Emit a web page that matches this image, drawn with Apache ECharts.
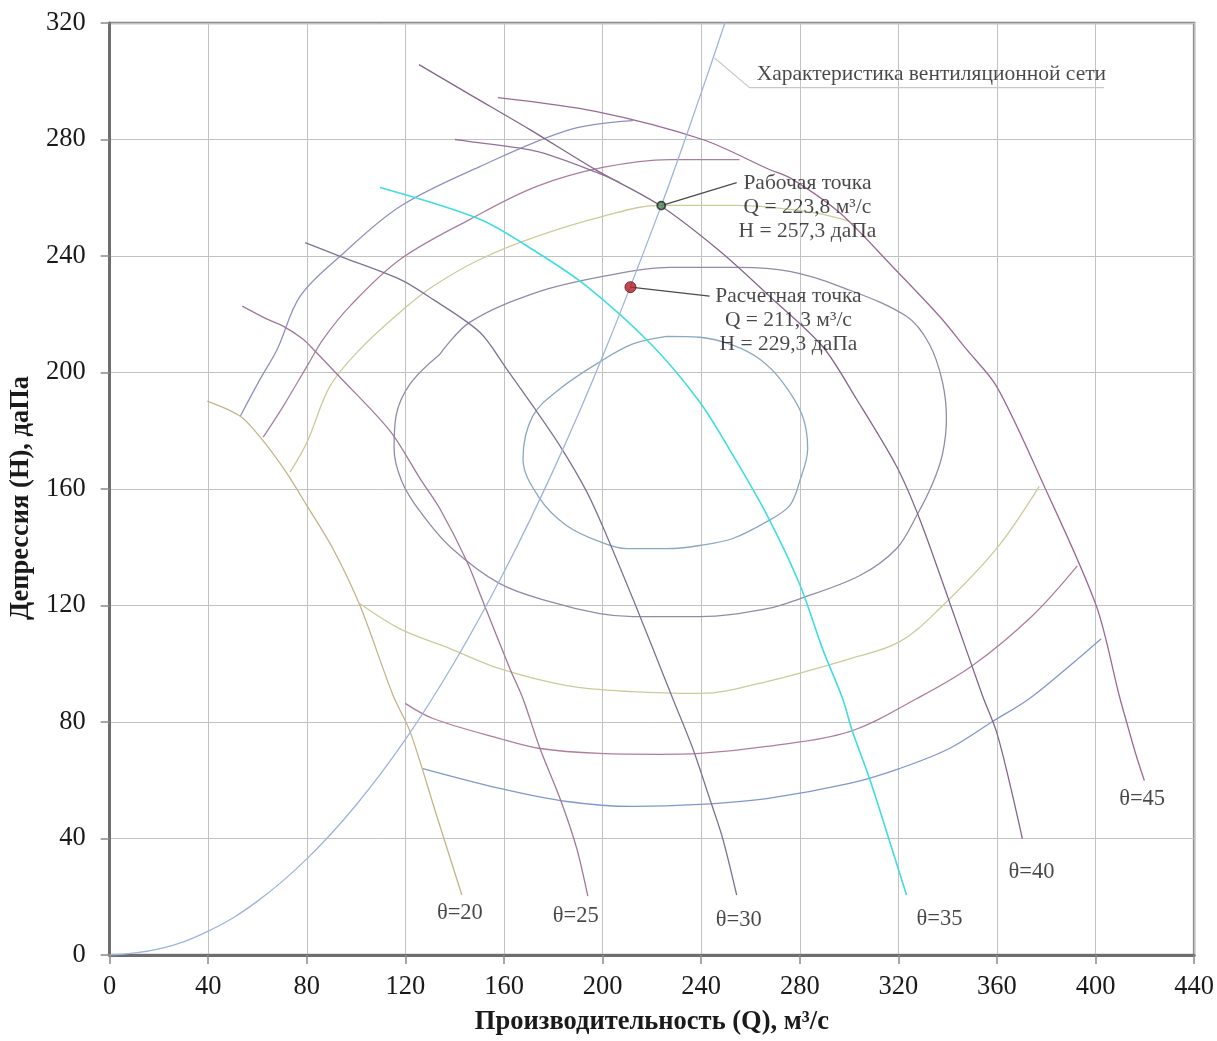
<!DOCTYPE html>
<html>
<head>
<meta charset="utf-8">
<title>Аэродинамическая характеристика вентилятора</title>
<script src="https://cdn.jsdelivr.net/npm/echarts/dist/echarts.min.js"></script>
<style>
html, body { margin: 0; padding: 0; background: #fff; }
#chart { width: 1217px; height: 1041px; }
</style>
</head>
<body>
<div id="chart"></div>
<script>
// оси
var qMin = 0, qMax = 440, qStep = 40;
var hMin = 0, hMax = 320, hStep = 40;

// характеристика вентиляционной сети (Q, H)
var network = [[0, 0], [20, 2.1], [40, 8.2], [60, 18.5], [80, 33], [100, 51.5], [120, 74], [140, 100.7],
    [160, 131.5], [180, 166.4], [200, 205.5], [223.8, 257.3], [240, 296], [250, 321]];

// характеристики при углах установки лопаток
var theta20 = [[39.6, 190.2], [53.0, 185.0], [61.1, 177.8], [71.6, 165.8], [80.1, 154.2], [90.6, 139.5],
    [101.6, 119.9], [115.0, 89.1], [121.9, 76.7], [132.4, 48.6], [142.9, 20.6]];
var theta25 = [[53.8, 222.8], [63.9, 218.3], [70.4, 215.9], [78.5, 211.4], [82.6, 208.0], [92.3, 199.4],
    [113.8, 179.9], [126.0, 163.5], [134.0, 153.2], [145.0, 135.0], [151.5, 121.3], [162.4, 98.3],
    [167.7, 88.0], [174.6, 70.9], [182.7, 53.8], [189.5, 36.6], [194.0, 20.2]];
var theta30 = [[79.3, 244.6], [93.5, 239.9], [117.8, 232.0], [131.2, 225.1], [150.2, 213.8], [161.1, 201.2],
    [171.7, 188.5], [182.7, 174.8], [193.6, 159.0], [201.7, 143.9], [212.3, 122.3], [220.4, 105.2],
    [228.5, 88.0], [236.6, 70.9], [243.4, 53.8], [248.7, 40.1], [254.4, 20.6]];
var theta35 = [[109.7, 263.5], [150.2, 252.6], [173.3, 241.3], [193.6, 229.6], [219.1, 210.2], [239.4, 189.9],
    [252.8, 171.7], [266.6, 151.2], [280.0, 127.2], [289.2, 105.2], [297.4, 88.0], [301.4, 76.7],
    [308.3, 60.6], [315.2, 42.4], [323.3, 20.6]];
var theta40 = [[125.5, 305.7], [146.2, 295.4], [170.5, 283.4], [197.6, 269.4], [223.2, 257.4], [247.5, 241.7],
    [267.7, 226.2], [289.2, 209.0], [303.0, 190.9], [319.2, 167.9], [328.6, 149.8], [340.7, 121.3],
    [354.1, 89.1], [359.8, 76.7], [365.0, 59.6], [370.3, 40.0]];
var theta40Branch = [[140.1, 280.0], [146.2, 279.3], [173.3, 275.9], [197.6, 268.7], [207.0, 265.2]];
var theta45 = [[157.5, 294.4], [197.6, 289.6], [240.6, 280.0], [267.7, 269.7], [275.9, 266.9], [296.1, 254.9],
    [317.6, 236.4], [336.7, 219.3], [347.6, 208.0], [359.8, 195.3], [378.4, 162.4], [400.3, 119.9],
    [409.6, 89.1], [413.7, 76.7], [416.5, 68.5], [419.8, 59.9]];

// линии равного КПД
var etaOuterTop = [[53.0, 185.0], [61.1, 197.8], [68.0, 208.0], [77.3, 226.2], [93.5, 239.9], [117.8, 257.0],
    [150.2, 270.7], [186.7, 283.4], [212.3, 286.5]];
var etaOuterBottom = [[127.1, 64.0], [158.3, 57.2], [185.5, 52.7], [212.3, 51.0], [239.4, 51.7], [266.6, 53.7],
    [300.2, 58.9], [320.4, 64.0], [340.7, 70.9], [358.1, 80.1], [373.1, 88.0], [388.1, 98.3], [402.3, 108.6]];
var etaMidTop = [[62.3, 177.8], [70.4, 188.4], [80.1, 202.2], [86.6, 211.4], [97.5, 222.8], [117.8, 238.8],
    [146.2, 252.6], [173.3, 263.9], [200.1, 270.4], [227.2, 273.1], [255.6, 273.1]];
var etaMidBottom = [[119.9, 86.4], [131.2, 81.2], [158.3, 74.3], [174.6, 70.9], [198.8, 69.2], [223.2, 68.9],
    [239.4, 69.2], [266.6, 71.6], [300.2, 76.7], [327.4, 88.0], [350.1, 99.4], [374.4, 116.5], [392.6, 133.6]];
var etaInnerTop = [[73.2, 165.8], [80.1, 176.1], [89.4, 195.3], [101.6, 208.0], [117.8, 220.7], [131.2, 229.6],
    [150.2, 238.8], [173.3, 246.7], [200.1, 253.6], [223.2, 257.4], [254.4, 257.4], [285.2, 255.0], [300.2, 251.9]];
var etaInnerBottom = [[101.6, 120.6], [117.8, 112.0], [138.1, 105.2], [158.3, 98.3], [185.5, 92.5], [212.3, 90.4],
    [239.4, 89.8], [266.6, 93.9], [300.2, 101.7], [320.4, 107.5], [336.7, 118.9], [359.8, 139.5], [377.2, 161.0]];
var etaLoop2 = [[134.0, 206.3], [146.2, 217.3], [173.3, 227.5], [200.1, 233.0], [227.2, 236.1], [255.6, 236.1],
    [275.9, 234.7], [296.1, 229.6], [323.3, 219.3], [332.6, 209.7], [337.9, 196.7], [339.5, 184.1],
    [337.9, 172.0], [333.8, 161.7], [327.4, 150.8], [319.2, 139.5], [304.2, 130.2], [279.9, 122.3],
    [266.6, 118.9], [239.4, 116.2], [212.3, 116.2], [198.8, 117.2], [178.6, 121.3], [158.3, 127.5],
    [138.1, 140.2], [126.0, 152.2], [118.6, 162.5], [115.4, 173.8], [116.2, 185.1], [121.9, 196.1], [134.0, 206.3]];
var etaLoop1 = [[226.0, 212.4], [239.4, 212.1], [252.8, 209.4], [263.7, 204.6], [273.0, 196.7], [281.1, 185.1],
    [283.2, 173.8], [279.9, 162.5], [275.9, 154.3], [266.6, 148.8], [252.8, 143.0], [239.4, 140.6],
    [226.0, 139.5], [209.8, 139.5], [198.8, 141.9], [185.5, 147.4], [174.6, 156.6], [167.7, 170.3],
    [171.7, 185.1], [182.7, 194.4], [198.8, 203.6], [212.3, 209.8], [226.0, 212.4]];

// точки
var workPoint = [223.8, 257.3];
var designPoint = [211.3, 229.3];

// подписи (Q, H, текст)
var thetaLabels = [[142.1, 14.3, 'θ=20'], [189.1, 13.3, 'θ=25'], [255.2, 11.9, 'θ=30'],
    [336.7, 12.2, 'θ=35'], [374.0, 28.3, 'θ=40'], [418.9, 53.7, 'θ=45']];
var networkLeader = [[245.4, 308], [259.6, 297.8], [403.5, 297.8]];
var networkLabelAt = [262.5, 302.3];
var workLeader = [workPoint, [254.4, 265.2]];
var workLabelAt = [283.1, 256.7];
var designLeader = [designPoint, [243.4, 226.2]];
var designLabelAt = [275.4, 217.9];

var serif = "'Liberation Serif', 'Times New Roman', serif";

function fmt(v) {
    return v.toFixed(1).replace('.', ',');
}

function curve(name, data, color, width, smooth) {
    return {
        name: name,
        type: 'line',
        data: data,
        symbol: 'none',
        smooth: smooth === undefined ? 0.35 : smooth,
        lineStyle: { color: color, width: width || 1.3 },
        silent: true,
        z: 3
    };
}

function textAt(pos, text, align, size) {
    return {
        type: 'scatter',
        data: [pos],
        symbolSize: 1,
        itemStyle: { color: 'rgba(0,0,0,0)' },
        silent: true,
        z: 6,
        label: {
            show: true,
            position: 'inside',
            align: align || 'center',
            verticalAlign: 'middle',
            formatter: text,
            fontFamily: serif,
            fontSize: size || 21.5,
            lineHeight: 24,
            color: '#1a1a1a'
        }
    };
}

var chart = echarts.init(document.getElementById('chart'));

var series = [
    curve('eta1', etaLoop1, '#8aa8c0'),
    curve('eta2', etaLoop2, '#948aa8'),
    curve('eta3a', etaInnerTop, '#cccb9c'),
    curve('eta3b', etaInnerBottom, '#cccb9c'),
    curve('eta4a', etaMidTop, '#a97f9f'),
    curve('eta4b', etaMidBottom, '#b07d9e'),
    curve('eta5a', etaOuterTop, '#8f91c2'),
    curve('eta5b', etaOuterBottom, '#8098cc'),
    curve('θ=20', theta20, '#c4b48a', 1.3, 0.3),
    curve('θ=25', theta25, '#a0789a', 1.3, 0.3),
    curve('θ=30', theta30, '#7f7296', 1.3, 0.3),
    curve('θ=40', theta40, '#84668c', 1.3, 0.3),
    curve('θ=40b', theta40Branch, '#96709a', 1.3, 0.3),
    curve('θ=45', theta45, '#9c6a96', 1.3, 0.3),
    curve('θ=35', theta35, '#3fdde2', 1.6, 0.3),
    curve('сеть', network, '#9fb4dc', 1.3, 0.4),
    curve('leaderNet', networkLeader, '#c8c8c8', 1.2, false),
    curve('leaderWork', workLeader, '#4a4a4a', 1.2, false),
    curve('leaderDesign', designLeader, '#4a4a4a', 1.2, false),
    {
        type: 'scatter',
        data: [workPoint],
        symbolSize: 8,
        itemStyle: { color: '#5f8f5f', borderColor: '#1c2a1c', borderWidth: 1.8 },
        z: 7
    },
    {
        type: 'scatter',
        data: [designPoint],
        symbolSize: 11,
        itemStyle: { color: '#b01e2a', borderColor: '#6a0a12', borderWidth: 1 },
        z: 7
    },
    textAt(networkLabelAt, 'Характеристика вентиляционной сети', 'left'),
    textAt(workLabelAt, ['Рабочая точка', 'Q = ' + fmt(workPoint[0]) + ' м³/с', 'H = ' + fmt(workPoint[1]) + ' даПа'].join('\n')),
    textAt(designLabelAt, ['Расчетная точка', 'Q = ' + fmt(designPoint[0]) + ' м³/с', 'H = ' + fmt(designPoint[1]) + ' даПа'].join('\n')),
    {
        type: 'scatter',
        data: thetaLabels,
        symbolSize: 1,
        itemStyle: { color: 'rgba(0,0,0,0)' },
        silent: true,
        z: 6,
        label: {
            show: true,
            position: 'inside',
            formatter: function (p) { return p.data[2]; },
            fontFamily: serif,
            fontSize: 22.5,
            color: '#1a1a1a'
        }
    }
];

chart.setOption({
    animation: false,
    backgroundColor: '#fff',
    grid: {
        left: 109, right: 22, top: 23, bottom: 84,
        show: true,
        borderColor: '#8c8c8c',
        borderWidth: 2.5
    },
    xAxis: {
        type: 'value',
        min: qMin, max: qMax, interval: qStep,
        name: 'Производительность (Q), м³/с',
        nameLocation: 'middle',
        nameGap: 54,
        nameTextStyle: { fontFamily: serif, fontSize: 26.5, fontWeight: 'bold', color: '#1a1a1a' },
        axisLine: { show: true, onZero: false, lineStyle: { color: '#6e6e6e', width: 3 } },
        axisTick: { show: true, length: 9, lineStyle: { color: '#8a8a8a', width: 1.5 } },
        axisLabel: { fontFamily: serif, fontSize: 26.5, color: '#1a1a1a', margin: 19 },
        splitLine: { show: true, lineStyle: { color: '#c2c2c2', width: 1 } }
    },
    yAxis: {
        type: 'value',
        min: hMin, max: hMax, interval: hStep,
        name: 'Депрессия (H), даПа',
        nameLocation: 'middle',
        nameGap: 65,
        nameTextStyle: { fontFamily: serif, fontSize: 26.5, fontWeight: 'bold', color: '#1a1a1a', padding: [0, 18, 0, 0] },
        axisLine: { show: true, onZero: false, lineStyle: { color: '#6e6e6e', width: 3 } },
        axisTick: { show: true, length: 9, lineStyle: { color: '#8a8a8a', width: 1.5 } },
        axisLabel: { fontFamily: serif, fontSize: 26.5, color: '#1a1a1a', margin: 24 },
        splitLine: { show: true, lineStyle: { color: '#c2c2c2', width: 1 } }
    },
    series: series
});
</script>
</body>
</html>
